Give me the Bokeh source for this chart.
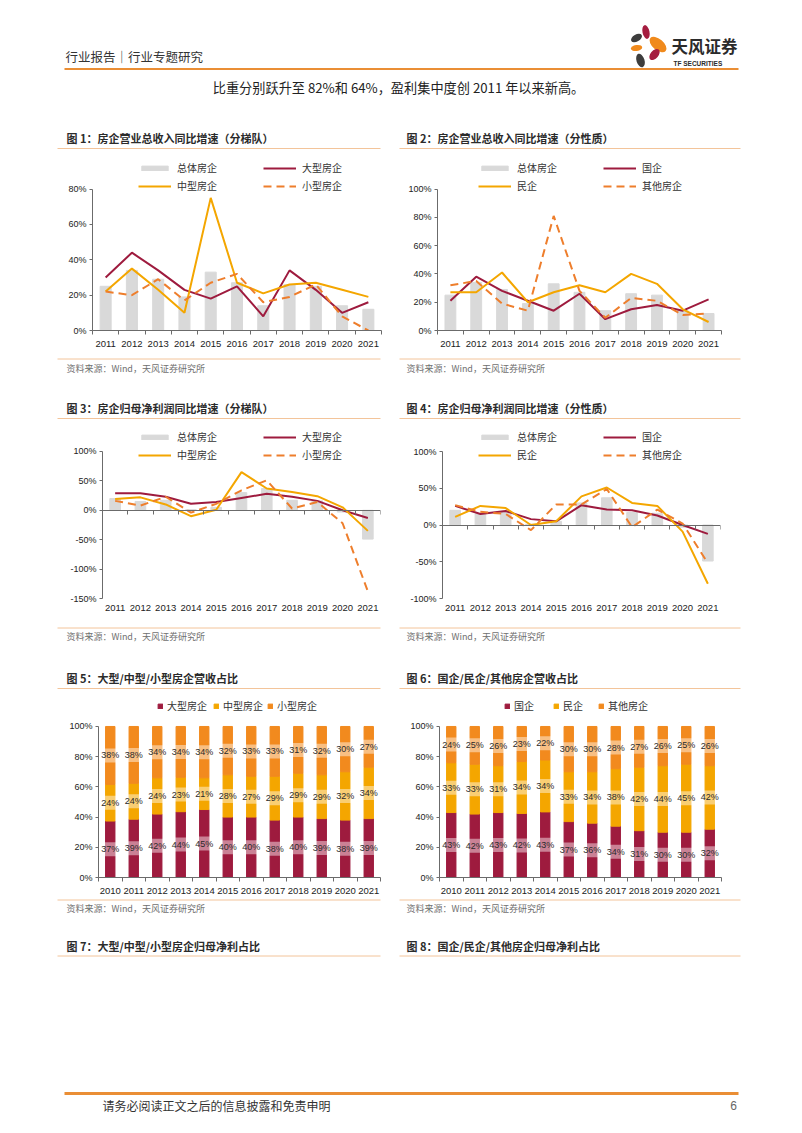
import numpy as np
from bokeh.plotting import figure
from bokeh.layouts import column, row
from bokeh.models import (Range1d, LinearAxis, FixedTicker, CustomJSTickFormatter,
                          PrintfTickFormatter, Legend, LegendItem, ColumnDataSource)
from bokeh.core.properties import value
from bokeh.embed import file_html
from bokeh.resources import INLINE

# ---------------- data ----------------
years = ["2011", "2012", "2013", "2014", "2015", "2016", "2017", "2018", "2019", "2020", "2021"]
years12 = ["2010"] + years

# Fig 1 / Fig 2 : revenue yoy (%)
total_rev = [25, 34, 29, 19, 33, 27, 14, 26, 25, 14, 12]
large_rev = [30, 44, 34, 23, 18, 25, 8, 34, 23, 10, 16]
mid_rev = [22, 35, 23, 10, 75, 27, 21, 26, 27, 23, 19]
small_rev = [22, 20, 29, 17, 27, 32, 16, 19, 26, 8, 0]
soe_rev = [21, 38, 28, 21, 14, 26, 8, 15, 18, 14, 22]
pvt_rev = [27, 27, 41, 20, 27, 32, 27, 40, 33, 15, 6]
oth_rev = [32, 35, 19, 14, 81, 28, 9, 23, 21, 11, 12]

# Fig 3 / Fig 4 : net profit yoy (%)
total_np = [20, 15, 17, 1, 5, 30, 37, 17, 16, -3, -49]
large_np = [29, 29, 23, 11, 14, 21, 28, 23, 16, 0, -13]
mid_np = [19, 22, 10, -10, 1, 65, 37, 31, 24, 5, -35]
small_np = [16, 8, 23, -4, 11, 34, 51, 3, 14, -22, -138]
soe_np = [26, 15, 19, 8, 5, 27, 21, 20, 13, 0, -12]
pvt_np = [11, 26, 23, 0, 5, 39, 51, 30, 26, -9, -80]
oth_np = [27, 18, 15, -7, 28, 28, 49, -3, 21, 2, -52]

# Fig 5 / Fig 6 : revenue share (%)
large_share = [37, 39, 42, 44, 45, 40, 40, 38, 40, 39, 38, 39]
mid_share = [24, 24, 24, 23, 21, 28, 27, 29, 29, 29, 32, 34]
small_share = [38, 38, 34, 34, 34, 32, 33, 33, 31, 32, 30, 27]
soe_share = [43, 42, 43, 42, 43, 37, 36, 34, 31, 30, 30, 32]
pvt_share = [33, 33, 31, 34, 34, 33, 34, 38, 42, 44, 45, 42]
oth_share = [24, 25, 26, 23, 22, 30, 30, 28, 27, 26, 25, 26]

# ---------------- style ----------------
CJK = "Noto Sans CJK SC"
LAT = "Liberation Sans"
RED = "#9E1B3E"
YEL = "#F4A600"
ORG = "#EE7E2C"
GRAY = "#D9D9D9"
AX = "#6b6b6b"
PALE = "#F3C49A"
HDR = "#EA8E35"
TXT = "#333333"
SRC = "资料来源：Wind，天风证券研究所"


def strip(y0, y1):
    p = figure(width=802, height=y1 - y0, x_range=Range1d(0, 802), y_range=Range1d(y1, y0),
               output_backend="svg", toolbar_location=None, min_border=0,
               x_axis_type=None, y_axis_type=None)
    p.outline_line_color = None
    return p


def txt(p, x, y, s, size, color=TXT, font=CJK, align="left", style="normal"):
    p.text(x=[x], y=[y], text=[s], text_font=value(font), text_font_size=size,
           text_color=color, text_align=align, text_baseline="middle", text_font_style=style)


def hline(p, x0, x1, y, color, w):
    p.segment(x0=[x0], y0=[y], x1=[x1], y1=[y], line_color=color, line_width=w)


def titles(p, y, uy, left, right):
    txt(p, 66, y, left, "11px", color="#2b2b2b", style="bold")
    txt(p, 406, y, right, "11px", color="#2b2b2b", style="bold")
    hline(p, 57, 380, uy, PALE, 1)
    hline(p, 399, 740, uy, PALE, 1)


def sources(p, ly, ty):
    hline(p, 57, 380, ly, PALE, 1)
    hline(p, 399, 740, ly, PALE, 1)
    txt(p, 66, ty, SRC, "9px", color="#707070")
    txt(p, 406, ty, SRC, "9px", color="#707070")


def add_leg(p, label, r, vx, vy, gw=33, gh=6, standoff=6):
    lg = Legend(items=[LegendItem(label=label, renderers=[r])], location=(vx, vy),
                orientation="horizontal", padding=0, margin=0, spacing=0,
                glyph_width=gw, glyph_height=gh, label_standoff=standoff,
                label_text_font=CJK, label_text_font_size="10px", label_text_color=TXT,
                label_height=14, label_text_baseline="middle",
                background_fill_alpha=0, border_line_alpha=0)
    p.add_layout(lg)


def base_chart(W, H, L, R, T, B, labels, ylo, yhi, yticks, ybounds):
    n = len(labels)
    p = figure(width=W, height=H, x_range=Range1d(0, n),
               y_range=Range1d(ylo, yhi), min_border_left=L, min_border_right=R,
               min_border_top=T, min_border_bottom=B, output_backend="svg",
               toolbar_location=None, x_axis_type=None, y_axis_type=None)
    p.outline_line_color = None
    centers = list(np.arange(n) + 0.5)
    bounds_ticks = list(range(n + 1))
    zero_at_bottom = (ylo == 0)
    xa = LinearAxis(ticker=FixedTicker(ticks=centers,
                                       minor_ticks=bounds_ticks if zero_at_bottom else []),
                    formatter=CustomJSTickFormatter(args=dict(labels=labels),
                                                    code="return labels[Math.floor(tick)] || '';"),
                    axis_line_color=AX if zero_at_bottom else None,
                    major_tick_line_color=None, major_tick_out=0, major_tick_in=0,
                    minor_tick_line_color=AX, minor_tick_out=4, minor_tick_in=0,
                    major_label_standoff=6,
                    major_label_text_font=LAT, major_label_text_font_size="9.5px",
                    major_label_text_color="#222222")
    p.add_layout(xa, "below")
    ya = LinearAxis(ticker=FixedTicker(ticks=yticks), formatter=PrintfTickFormatter(format="%d%%"),
                    bounds=ybounds, axis_line_color=AX, major_tick_line_color=AX,
                    major_tick_out=3, major_tick_in=0, minor_tick_line_color=None,
                    major_label_standoff=3, major_label_text_font=LAT,
                    major_label_text_font_size="9px", major_label_text_color="#222222")
    p.add_layout(ya, "left")
    if not zero_at_bottom:
        za = LinearAxis(ticker=FixedTicker(ticks=[], minor_ticks=bounds_ticks),
                        fixed_location=0, axis_line_color=AX, major_tick_line_color=None,
                        minor_tick_line_color=AX, minor_tick_out=4, minor_tick_in=0)
        p.add_layout(za, "below")
    return p, centers


def line_chart(W, H, L, R, T, B, ylo, yhi, yticks, ybounds, total, s1, s2, s3, names, legpos):
    p, cx = base_chart(W, H, L, R, T, B, years, ylo, yhi, yticks, ybounds)
    src = ColumnDataSource(dict(x=cx, total=total, a=s1, b=s2, c=s3))
    rb = p.vbar(x="x", top="total", width=0.42, color=GRAY, source=src)
    ra = p.line(x="x", y="a", line_color=RED, line_width=2, source=src)
    rm = p.line(x="x", y="b", line_color=YEL, line_width=2, source=src)
    rs = p.line(x="x", y="c", line_color=ORG, line_width=2, line_dash="8 5", source=src)
    for r, nm, (vx, vy) in zip([rb, ra, rm, rs], names, legpos):
        add_leg(p, nm, r, vx, vy)
    return p


def stack_chart(W, H, L, R, T, B, a, b, c, names, legpos):
    p, cx = base_chart(W, H, L, R, T, B, years12, 0, 122.5, [0, 20, 40, 60, 80, 100], (0, 100))
    a_ = np.array(a, dtype=float)
    b_ = np.array(b, dtype=float)
    c_ = np.array(c, dtype=float)
    tot = a_ + b_ + c_
    na, nb, nc = a_ / tot * 100, b_ / tot * 100, c_ / tot * 100
    src = ColumnDataSource(dict(x=cx, a=na, b=nb, c=nc))
    rs = p.vbar_stack(["a", "b", "c"], x="x", width=0.4, color=[RED, YEL, "#F28A1E"], source=src)
    mids = [na / 2, na + nb / 2, na + nb + nc / 2]
    for arr, m in zip([a, b, c], mids):
        p.text(x=cx, y=list(m), text=[f"{v}%" for v in arr], text_align="center",
               text_baseline="middle", text_font=value(LAT), text_font_size="9px",
               text_color="#2a2a2a", background_fill_color="white",
               background_fill_alpha=0.45, padding=2)
    for r, nm, (vx, vy) in zip(rs, names, legpos):
        add_leg(p, nm, r, vx, vy, gw=6, gh=6, standoff=4)
    return p


# ---------------- header (0-154) ----------------
hdr = strip(0, 154)
txt(hdr, 65, 56, "行业报告｜行业专题研究", "12.5px", color="#333333")
hline(hdr, 64, 738, 68.5, HDR, 2)
hdr.ellipse(x=[645.5, 657.5, 636, 636, 654, 640], y=[31.5, 44, 37.5, 47.5, 54, 60],
            width=[14, 20, 12, 11.5, 13, 14], height=[7, 11, 7, 6, 8, 8],
            angle=[-78, -40, -150, -172, 50, -72], angle_units="deg",
            fill_color=["#A51D40", "#F08A1C", "#3d3d3d", "#F08A1C", "#A51D40", "#3d3d3d"],
            line_color=None)
txt(hdr, 671, 45, "天风证券", "16.5px", color="#2b2b2b", style="bold")
txt(hdr, 673, 63, "TF SECURITIES", "6.5px", color="#2b2b2b", font=LAT, style="bold")
txt(hdr, 398, 87, "比重分别跃升至 82%和 64%，盈利集中度创 2011 年以来新高。", "13.2px",
    color="#222222", align="center")
titles(hdr, 137, 148, "图 1：房企营业总收入同比增速（分梯队）", "图 2：房企营业总收入同比增速（分性质）")

# ---------------- row 1 charts (154-355) ----------------
c1 = line_chart(399, 201, 92, 18, 2, 25, 0, 98.4, [0, 20, 40, 60, 80], (0, 80),
                total_rev, large_rev, mid_rev, small_rev,
                ["总体房企", "大型房企", "中型房企", "小型房企"],
                [(46, 155), (171, 155), (46, 137), (171, 137)])
c2 = line_chart(403, 201, 38, 81, 2, 25, 0, 123.0, [0, 20, 40, 60, 80, 100], (0, 100),
                total_rev, soe_rev, pvt_rev, oth_rev,
                ["总体房企", "国企", "民企", "其他房企"],
                [(41, 155), (166, 155), (41, 137), (166, 137)])

# ---------------- strip A (355-421) ----------------
sa = strip(355, 421)
sources(sa, 358.5, 368)
titles(sa, 407, 418, "图 3：房企归母净利润同比增速（分梯队）", "图 4：房企归母净利润同比增速（分性质）")

# ---------------- row 2 charts (421-625) ----------------
c3 = line_chart(399, 204, 102, 19, 2, 27, -150, 147.6, [-150, -100, -50, 0, 50, 100], (-150, 100),
                total_np, large_np, mid_np, small_np,
                ["总体房企", "大型房企", "中型房企", "小型房企"],
                [(36, 154), (161, 154), (36, 136), (161, 136)])
c4 = line_chart(403, 204, 43, 82, 2, 27, -100, 138.1, [-100, -50, 0, 50, 100], (-100, 100),
                total_np, soe_np, pvt_np, oth_np,
                ["总体房企", "国企", "民企", "其他房企"],
                [(36, 154), (161, 154), (36, 136), (161, 136)])

# ---------------- strip B (625-690) ----------------
sb = strip(625, 690)
sources(sb, 627.5, 636)
titles(sb, 677, 688, "图 5：大型/中型/小型房企营收占比", "图 6：国企/民企/其他房企营收占比")

# ---------------- row 3 charts (690-898) ----------------
c5 = stack_chart(399, 208, 98, 19, 2, 21, large_share, mid_share, small_share,
                 ["大型房企", "中型房企", "小型房企"], [(59, 164), (115, 164), (169, 164)])
c6 = stack_chart(403, 208, 40, 81, 2, 21, soe_share, pvt_share, oth_share,
                 ["国企", "民企", "其他房企"], [(65, 164), (114, 164), (159, 164)])

# ---------------- footer (898-1133) ----------------
ftr = strip(898, 1133)
sources(ftr, 899.5, 908)
titles(ftr, 945, 955.5, "图 7：大型/中型/小型房企归母净利占比", "图 8：国企/民企/其他房企归母净利占比")
hline(ftr, 64, 738, 1093, HDR, 3)
txt(ftr, 102, 1105, "请务必阅读正文之后的信息披露和免责申明", "12px", color="#333333")
txt(ftr, 733, 1105, "6", "12px", color="#666666", font=LAT, align="center")

page = column(hdr, row(c1, c2), sa, row(c3, c4), sb, row(c5, c6), ftr)

open("out.html", "w").write(file_html(page, INLINE))
